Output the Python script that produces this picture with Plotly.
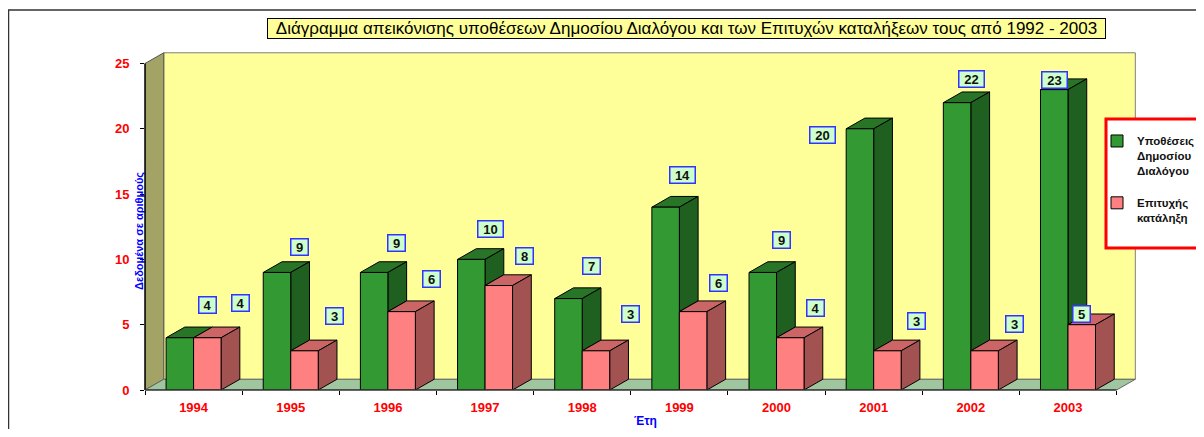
import plotly.graph_objects as go

# ---------------- data ----------------
years = ["1994", "1995", "1996", "1997", "1998", "1999", "2000", "2001", "2002", "2003"]
cases = [4, 9, 9, 10, 7, 14, 9, 20, 22, 23]          # Υποθέσεις Δημοσίου Διαλόγου
success = [4, 3, 6, 8, 3, 6, 4, 3, 3, 5]             # Επιτυχής κατάληξη
y_ticks = [0, 5, 10, 15, 20, 25]

name_cases = "Υποθέσεις<br>Δημοσίου<br>Διαλόγου"
name_success = "Επιτυχής<br>κατάληξη"
title_text = "Διάγραμμα απεικόνισης υποθέσεων Δημοσίου Διαλόγου και των Επιτυχών καταλήξεων τους από 1992 - 2003"
y_title = "Δεδομένα σε αριθμούς"
x_title = "Έτη"

# ---------------- label placement (pixel offsets from each bar's top centre) ----------------
cases_lbl_dx = [28, 23, 22, 19, 23, 17, 19, -37, 14, 0]
cases_lbl_dy = [33, 25, 29, 30, 33, 32, 32, -6, 24, 10]
succ_lbl_dx = [33, 30, 30, 26, 35, 25, 25, 29, 30, 0]
succ_lbl_dy = [35, 35, 33, 30, 37, 29, 30, 30, 27, 11]

# ---------------- geometry / style ----------------
OFF = 8                      # page body margin around the figure
W, H = 1204 - 2 * OFF, 437 - 2 * OFF
ML, MT = 145 - OFF, 52 - OFF
MB = H - (390 - OFF)
MR = W - (1136 - OFF)
PW, PH = W - ML - MR, H - MT - MB
XR = [-0.5, 9.7]
YR = [0, 25.88]
BW = 0.283            # bar width (category units)
DX, DY = 0.193, 0.82  # 3-D depth offset (axis units)

FONT = "Arial, Liberation Sans, sans-serif"
G_FRONT, G_SIDE, G_TOP = "#339933", "#1F5F1F", "#287528"
P_FRONT, P_SIDE, P_TOP = "#FF8080", "#A35252", "#CC6666"
WALL, SIDEWALL, FLOOR = "#FFFF99", "#A3A366", "#A0C6A0"


def pxx(p):
    """page x pixel -> paper x"""
    return (p - OFF - ML) / PW


def pxy(p):
    """page y pixel -> paper y"""
    return (H - MB - (p - OFF)) / PH


def poly(pts, fill, line="#000000", lw=1, layer="below"):
    path = "M " + " L ".join(f"{x},{y}" for x, y in pts) + " Z"
    return dict(type="path", path=path, xref="x", yref="y", fillcolor=fill,
                line=dict(color=line, width=lw), layer=layer)


shapes = []
# outer chart frame
shapes.append(dict(type="rect", xref="paper", yref="paper", x0=pxx(8.5), x1=pxx(1240),
                   y0=pxy(470), y1=pxy(10), line=dict(color="#333333", width=1.5),
                   fillcolor="rgba(0,0,0,0)", layer="below"))
# walls and floor
shapes.append(poly([(-0.5 + DX, DY), (9.5 + DX, DY), (9.5 + DX, 25 + DY), (-0.5 + DX, 25 + DY)],
                   WALL, "#7F7F7F", 1))
shapes.append(poly([(-0.5, 0), (-0.5, 25), (-0.5 + DX, 25 + DY), (-0.5 + DX, DY)],
                   SIDEWALL, "#555555", 1))
shapes.append(poly([(-0.5, 0), (9.5, 0), (9.5 + DX, DY), (-0.5 + DX, DY)],
                   FLOOR, "#666666", 1))

# 3-D side and top faces derived from the data
for i in range(len(years)):
    g, p = cases[i], success[i]
    gl, gr = i - BW, i
    pl, pr = i, i + BW
    shapes.append(poly([(gl, g), (gr, g), (gr + DX, g + DY), (gl + DX, g + DY)], G_TOP))
    if g > p:  # visible part of the green side face
        shapes.append(poly([(gr, p), (gr, g), (gr + DX, g + DY), (gr + DX, p + DY)], G_SIDE))
    shapes.append(poly([(pl, p), (pr, p), (pr + DX, p + DY), (pl + DX, p + DY)], P_TOP))
    shapes.append(poly([(pr, 0), (pr, p), (pr + DX, p + DY), (pr + DX, DY)], P_SIDE))

# front axis lines
shapes.append(dict(type="line", xref="paper", yref="y", x0=0, x1=0, y0=0, y1=25,
                   line=dict(color="#000000", width=1.5), layer="above"))
shapes.append(dict(type="line", xref="x", yref="paper", x0=-0.5, x1=9.5, y0=0, y1=0,
                   line=dict(color="#333333", width=1.5), layer="above"))
# legend frame
shapes.append(dict(type="rect", xref="paper", yref="paper", x0=pxx(1106), x1=pxx(1225),
                   y0=pxy(248), y1=pxy(119), line=dict(color="#FF0000", width=3),
                   fillcolor="#FFFFFF", layer="above"))

fig = go.Figure()
fig.add_trace(go.Bar(x=years, y=cases, width=BW, offset=-BW, name=name_cases,
                     legendgroup="a",
                     marker=dict(color=G_FRONT, line=dict(color="#000000", width=1)),
                     hoverinfo="x+y"))
fig.add_trace(go.Bar(x=years, y=success, width=BW, offset=0, name=name_success,
                     legendgroup="b",
                     marker=dict(color=P_FRONT, line=dict(color="#000000", width=1)),
                     hoverinfo="x+y"))

annotations = []
# title box
annotations.append(dict(xref="paper", yref="paper", x=pxx(686), y=pxy(28),
                        text=title_text, showarrow=False, xanchor="center", yanchor="middle",
                        font=dict(family=FONT, size=17, color="#000000"),
                        bgcolor="#FFFF99", bordercolor="#000000", borderwidth=1,
                        borderpad=0, width=837, height=19))
# axis titles
annotations.append(dict(xref="paper", yref="paper", x=pxx(140), y=pxy(231), text=y_title,
                        textangle=-90, showarrow=False, xanchor="center", yanchor="middle",
                        font=dict(family=FONT, size=11, color="#0000FF", weight="bold")))
annotations.append(dict(xref="paper", yref="paper", x=pxx(645), y=pxy(421), text=x_title,
                        showarrow=False, xanchor="center", yanchor="middle",
                        font=dict(family=FONT, size=12, color="#0000FF", weight="bold")))


def label(xpos, val, dx, dy):
    txt = str(val)
    return dict(xref="x", yref="y", x=xpos, y=val, text=txt, showarrow=False,
                xanchor="center", yanchor="middle", xshift=dx, yshift=dy,
                font=dict(family=FONT, size=13, color="#111111", weight="bold"),
                bgcolor="#CCFFCC", bordercolor="#3333FF", borderwidth=1.5, borderpad=0,
                width=8 + 8 * len(txt))


for i in range(len(years)):
    annotations.append(label(i - BW / 2, cases[i], cases_lbl_dx[i], cases_lbl_dy[i]))
    annotations.append(label(i + BW / 2, success[i], succ_lbl_dx[i], succ_lbl_dy[i]))

fig.update_layout(
    width=W, height=H,
    margin=dict(l=ML, r=MR, t=MT, b=MB, autoexpand=False),
    paper_bgcolor="#FFFFFF", plot_bgcolor="#FFFFFF",
    barmode="overlay",
    showlegend=True,
    legend=dict(x=pxx(1097), y=pxy(127), xanchor="left", yanchor="top",
                bgcolor="rgba(0,0,0,0)", borderwidth=0, valign="top",
                tracegroupgap=14, itemwidth=30,
                font=dict(family=FONT, size=11.5, color="#111111", weight="bold")),
    xaxis=dict(type="category", range=XR, tickson="boundaries", ticks="outside",
               ticklen=4, tickcolor="#000000", tickwidth=1, showgrid=False,
               showline=False, zeroline=False, ticklabelstandoff=8, automargin=False,
               tickfont=dict(family=FONT, size=13, color="#FF0000", weight="bold")),
    yaxis=dict(range=YR, tickvals=y_ticks, ticks="outside", ticklen=4,
               tickcolor="#000000", tickwidth=1, showgrid=False, showline=False,
               zeroline=False, ticklabelstandoff=8, automargin=False,
               tickfont=dict(family=FONT, size=13, color="#FF0000", weight="bold")),
    shapes=shapes,
    annotations=annotations,
)

fig.write_html("out.html")
